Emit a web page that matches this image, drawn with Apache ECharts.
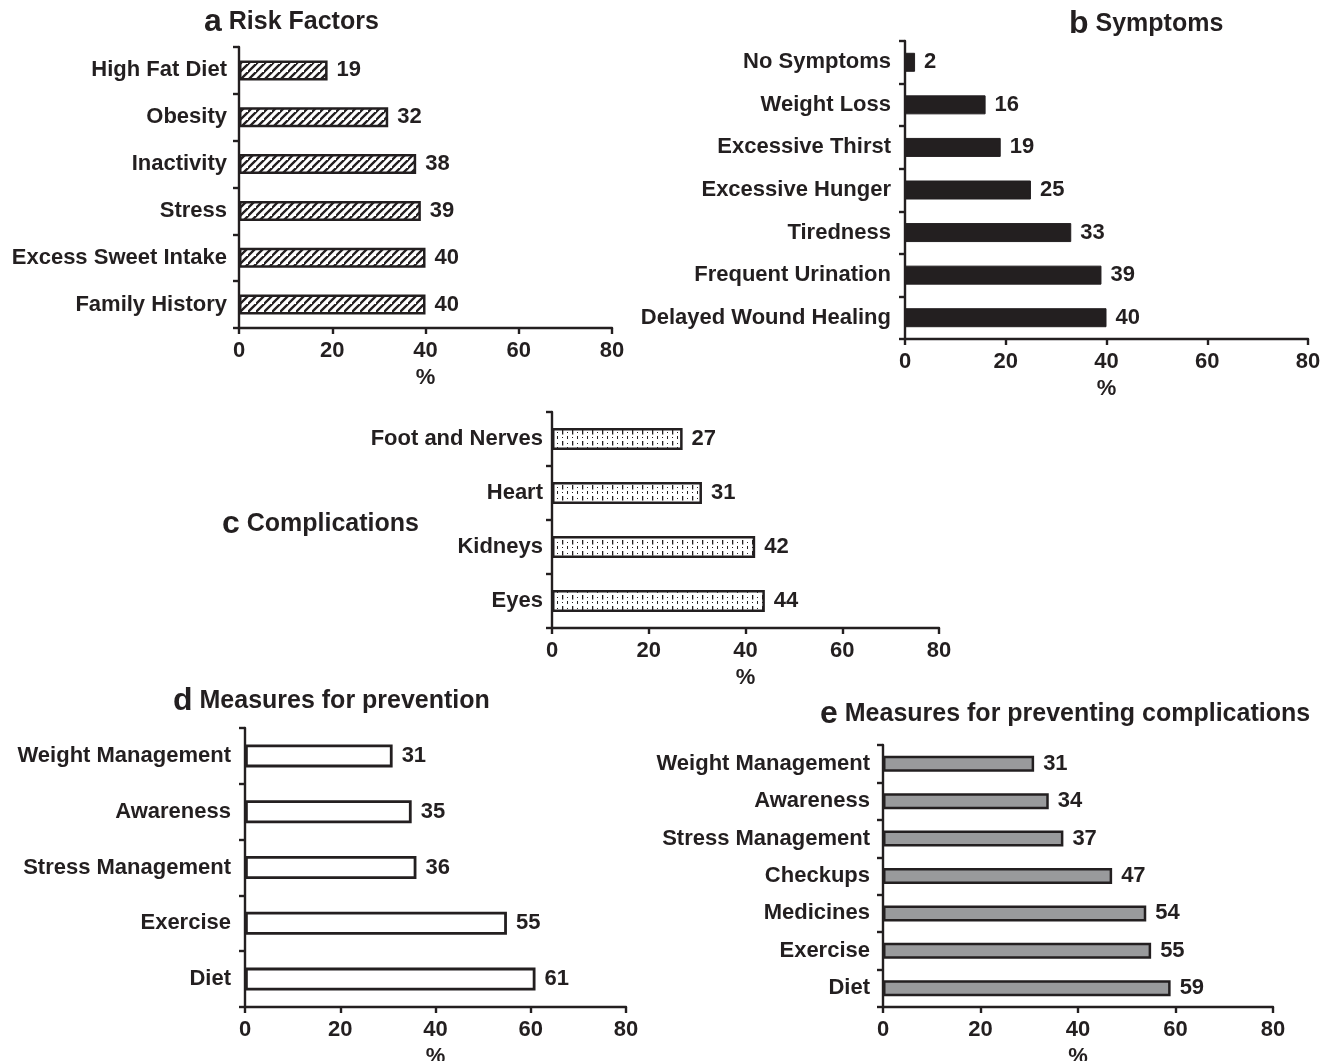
<!DOCTYPE html>
<html>
<head>
<meta charset="utf-8">
<script src="https://cdn.jsdelivr.net/npm/echarts@6/dist/echarts.min.js"></script>
<style>
  html, body { margin: 0; padding: 0; background: #fff; }
  #chart-canvas { width: 1331px; height: 1061px; }
</style>
</head>
<body>
<div id="chart-canvas"></div>
<script>
/* global echarts */
const riskCats = ['High Fat Diet', 'Obesity', 'Inactivity', 'Stress', 'Excess Sweet Intake', 'Family History'];
const riskVals = [19, 32, 38, 39, 40, 40];

const symptomCats = ['No Symptoms', 'Weight Loss', 'Excessive Thirst', 'Excessive Hunger', 'Tiredness', 'Frequent Urination', 'Delayed Wound Healing'];
const symptomVals = [2, 16, 19, 25, 33, 39, 40];

const complicationCats = ['Foot and Nerves', 'Heart', 'Kidneys', 'Eyes'];
const complicationVals = [27, 31, 42, 44];

const preventionCats = ['Weight Management', 'Awareness', 'Stress Management', 'Exercise', 'Diet'];
const preventionVals = [31, 35, 36, 55, 61];

const complPrevCats = ['Weight Management', 'Awareness', 'Stress Management', 'Checkups', 'Medicines', 'Exercise', 'Diet'];
const complPrevVals = [31, 34, 37, 47, 54, 55, 59];

const xMin = 0, xMax = 80, xStep = 20;

const FONT = '"Liberation Sans", Arial, Helvetica, sans-serif';
const INK = '#231f20';

// diagonal hatch for panel a
function hatchPattern() {
    const s = 8;
    const c = document.createElement('canvas');
    c.width = s; c.height = s;
    const ctx = c.getContext('2d');
    ctx.fillStyle = '#fff';
    ctx.fillRect(0, 0, s, s);
    ctx.strokeStyle = INK;
    ctx.lineWidth = 2.3;
    ctx.beginPath();
    ctx.moveTo(-1, s + 1); ctx.lineTo(s + 1, -1);
    ctx.moveTo(-s - 1, s + 1); ctx.lineTo(1, -1);
    ctx.moveTo(s - 1, s * 2 + 1); ctx.lineTo(s * 2 + 1, s - 1);
    ctx.stroke();
    return c;
}

// small ticks and dots for panel c
function dotPattern() {
    const c = document.createElement('canvas');
    c.width = 10; c.height = 11;
    const ctx = c.getContext('2d');
    ctx.fillStyle = '#fff';
    ctx.fillRect(0, 0, 10, 11);
    ctx.fillStyle = INK;
    ctx.fillRect(2, 1, 1.3, 4.5);
    ctx.fillRect(7, 3, 1, 1);
    ctx.fillRect(7, 7, 1, 3);
    ctx.fillRect(2, 8, 1, 1);
    return c;
}

const panels = [
    { cats: riskCats, vals: riskVals, grid: { left: 239, top: 47, width: 373, height: 281 }, barWidth: 20,
      style: { color: { image: hatchPattern(), repeat: 'repeat' }, borderColor: INK, borderWidth: 2.5 }, labelMargin: 12,
      title: ['a', 'Risk Factors'], titlePos: [204, 6] },
    { cats: symptomCats, vals: symptomVals, grid: { left: 905, top: 41, width: 403, height: 298 }, barWidth: 19,
      style: { color: INK, borderColor: INK, borderWidth: 1 }, labelMargin: 14,
      title: ['b', 'Symptoms'], titlePos: [1069, 8] },
    { cats: complicationCats, vals: complicationVals, grid: { left: 552, top: 412, width: 387, height: 216 }, barWidth: 22,
      style: { color: { image: dotPattern(), repeat: 'repeat' }, borderColor: INK, borderWidth: 2.5 }, labelMargin: 9,
      title: ['c', 'Complications'], titlePos: [222, 508] },
    { cats: preventionCats, vals: preventionVals, grid: { left: 245, top: 728, width: 381, height: 279 }, barWidth: 23,
      style: { color: '#fff', borderColor: INK, borderWidth: 2.8 }, labelMargin: 14,
      title: ['d', 'Measures for prevention'], titlePos: [173, 685] },
    { cats: complPrevCats, vals: complPrevVals, grid: { left: 883, top: 745, width: 390, height: 262 }, barWidth: 16,
      style: { color: '#999a9c', borderColor: INK, borderWidth: 2.5 }, labelMargin: 13,
      title: ['e', 'Measures for preventing complications'], titlePos: [820, 698] }
];

const option = {
    animation: false,
    backgroundColor: '#fff',
    textStyle: { fontFamily: FONT, color: INK },
    title: [],
    grid: [],
    xAxis: [],
    yAxis: [],
    series: []
};

panels.forEach((p, i) => {
    option.title.push({
        text: '{l|' + p.title[0] + '} {t|' + p.title[1] + '}',
        left: p.titlePos[0],
        top: p.titlePos[1],
        padding: 0,
        textStyle: {
            fontFamily: FONT, fontWeight: 'bold', fontSize: 25, color: INK,
            rich: {
                l: { fontFamily: FONT, fontWeight: 'bold', fontSize: 32, color: INK },
                t: { fontFamily: FONT, fontWeight: 'bold', fontSize: 25, color: INK }
            }
        }
    });
    option.grid.push(Object.assign({ containLabel: false, outerBoundsMode: 'none' }, p.grid));
    option.xAxis.push({
        type: 'value',
        gridIndex: i,
        min: xMin, max: xMax, interval: xStep,
        name: '%',
        nameLocation: 'middle',
        nameGap: 39,
        nameTextStyle: { fontFamily: FONT, fontWeight: 'bold', fontSize: 22, color: INK },
        axisLine: { show: true, lineStyle: { color: INK, width: 2.4 } },
        axisTick: { show: true, length: 6, lineStyle: { color: INK, width: 2.4 } },
        axisLabel: { margin: 12, fontFamily: FONT, fontWeight: 'bold', fontSize: 22, color: INK },
        splitLine: { show: false }
    });
    option.yAxis.push({
        type: 'category',
        gridIndex: i,
        inverse: true,
        data: p.cats,
        axisLine: { show: true, lineStyle: { color: INK, width: 2.4 } },
        axisTick: { show: true, length: 6, lineStyle: { color: INK, width: 2.4 } },
        axisLabel: { margin: p.labelMargin, fontFamily: FONT, fontWeight: 'bold', fontSize: 22, color: INK },
        splitLine: { show: false }
    });
    option.series.push({
        type: 'bar',
        xAxisIndex: i,
        yAxisIndex: i,
        data: p.vals,
        barWidth: p.barWidth,
        itemStyle: p.style,
        label: {
            show: true, position: 'right', distance: 9,
            fontFamily: FONT, fontWeight: 'bold', fontSize: 22, color: INK
        }
    });
});

const chart = echarts.init(document.getElementById('chart-canvas'));
chart.setOption(option);
</script>
</body>
</html>
